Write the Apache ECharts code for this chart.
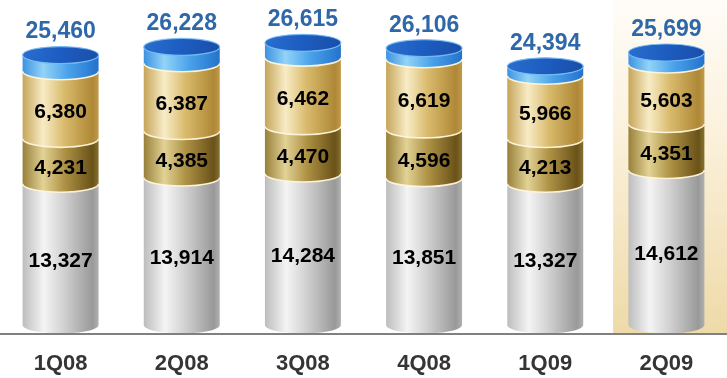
<!DOCTYPE html>
<html>
<head>
<meta charset="utf-8">
<script src="https://cdn.jsdelivr.net/npm/echarts@6/dist/echarts.min.js"></script>
<style>html,body{margin:0;padding:0;background:#fff}#c{width:727px;height:378px}</style>
</head>
<body>
<div id="c"></div>
<script>
const categories = ['1Q08', '2Q08', '3Q08', '4Q08', '1Q09', '2Q09'];
const grayVals = [13327, 13914, 14284, 13851, 13327, 14612];
const darkGoldVals = [4231, 4385, 4470, 4596, 4213, 4351];
const lightGoldVals = [6380, 6387, 6462, 6619, 5966, 5603];
const totals = [25460, 26228, 26615, 26106, 24394, 25699];
const highlighted = ['2Q09'];

const FONT = '"Liberation Sans", Arial, sans-serif';
const G = echarts.graphic;

function hGrad(stops) {
  return new G.LinearGradient(0, 0, 1, 0, stops.map(s => ({ offset: s[0], color: s[1] })));
}

const styles = {
  gray: [[0, '#bdbdbd'], [0.28, '#f4f4f4'], [0.55, '#d0d0d0'], [0.92, '#999999'], [1, '#b0b0b0']],
  dark: [[0, '#98803a'], [0.27, '#e2d295'], [0.55, '#ae9245'], [0.92, '#6a5218'], [1, '#857030']],
  light: [[0, '#c6a55a'], [0.27, '#f8ecc6'], [0.55, '#d9ba6c'], [0.92, '#ae8836'], [1, '#c09a48']],
  blue: [[0, '#3d92e0'], [0.27, '#92d3f8'], [0.6, '#4aa2ea'], [1, '#2472cc']]
};

function fmt(v) { return v.toLocaleString('en-US'); }

function makeRender(kind) {
  return function (params, api) {
    const idx = api.value(0);
    const p0 = api.coord([idx, api.value(1)]);
    const p1 = api.coord([idx, api.value(2)]);
    const bw = api.size([1, 0])[0] * 0.627;
    const rx = bw / 2, ry = 8.5, OFF = 9, k = 0.5523;
    const cx = p0[0], yb = p0[1] - OFF, yt = p1[1] - OFF;
    const d = 'M' + (cx - rx) + ',' + yt + ' L' + (cx - rx) + ',' + yb +
      ' C' + (cx - rx) + ',' + (yb + k * ry) + ' ' + (cx - k * rx) + ',' + (yb + ry) + ' ' + cx + ',' + (yb + ry) +
      ' C' + (cx + k * rx) + ',' + (yb + ry) + ' ' + (cx + rx) + ',' + (yb + k * ry) + ' ' + (cx + rx) + ',' + yb +
      ' L' + (cx + rx) + ',' + yt +
      ' C' + (cx + rx) + ',' + (yt + k * ry) + ' ' + (cx + k * rx) + ',' + (yt + ry) + ' ' + cx + ',' + (yt + ry) +
      ' C' + (cx - k * rx) + ',' + (yt + ry) + ' ' + (cx - rx) + ',' + (yt + k * ry) + ' ' + (cx - rx) + ',' + yt + ' Z';
    const children = [{
      type: 'path', shape: { pathData: d }, style: { fill: hGrad(styles[kind]) }
    }];
    if (kind !== 'blue') {
      const rim = 'M' + (cx - rx) + ',' + yt +
        ' C' + (cx - rx) + ',' + (yt + k * ry) + ' ' + (cx - k * rx) + ',' + (yt + ry) + ' ' + cx + ',' + (yt + ry) +
        ' C' + (cx + k * rx) + ',' + (yt + ry) + ' ' + (cx + rx) + ',' + (yt + k * ry) + ' ' + (cx + rx) + ',' + yt;
      children.push({ type: 'path', z2: 5, shape: { pathData: rim },
        style: { fill: null, stroke: 'rgba(255,246,220,0.95)', lineWidth: 1.6 } });
      children.push({ type: 'text', z2: 10, style: {
        text: fmt(api.value(3)), x: cx, y: (yb + yt) / 2 + 7, align: 'center', verticalAlign: 'middle',
        font: 'bold 21px ' + FONT, fill: '#000' } });
    } else {
      children.push({ type: 'ellipse', z2: 6, shape: { cx: cx, cy: yt, rx: rx, ry: ry },
        style: { fill: new G.LinearGradient(0, 0, 1, 1, [
          { offset: 0, color: '#2a6fd0' }, { offset: 0.5, color: '#1d5cc0' }, { offset: 1, color: '#1a4ea8' }]),
          stroke: 'rgba(120,190,245,0.9)', lineWidth: 1.2 } });
      children.push({ type: 'text', z2: 10, style: {
        text: fmt(api.value(3)), x: cx, y: yt - 23, align: 'center', verticalAlign: 'middle',
        font: 'bold 23px ' + FONT, fill: '#2f68a8' } });
    }
    return { type: 'group', children: children };
  };
}

const segs = { gray: [], dark: [], light: [], blue: [] };
categories.forEach((c, i) => {
  const a = grayVals[i], b = a + darkGoldVals[i], t = b + lightGoldVals[i];
  segs.gray.push([i, 0, a, grayVals[i]]);
  segs.dark.push([i, a, b, darkGoldVals[i]]);
  segs.light.push([i, b, t, lightGoldVals[i]]);
  segs.blue.push([i, t, totals[i], totals[i]]);
});

const hlData = highlighted.map(n => [categories.indexOf(n), 0]);

const chart = echarts.init(document.getElementById('c'));
chart.setOption({
  animation: false,
  grid: { left: 0, right: 0, top: 0, bottom: 44 },
  xAxis: {
    type: 'category', data: categories,
    axisTick: { show: false },
    axisLine: { lineStyle: { color: '#808080', width: 2 } },
    axisLabel: { margin: 19, fontSize: 22, fontWeight: 'bold', fontFamily: FONT, color: '#353535' },
    z: 5
  },
  yAxis: { type: 'value', min: 0, max: 31500, show: false, splitLine: { show: false } },
  series: [
    {
      type: 'custom', z: 0, silent: true, data: hlData, encode: { x: 0, y: 1 },
      renderItem: function (params, api) {
        const p = api.coord([api.value(0), 0]);
        const cs = params.coordSys;
        const x0 = p[0] - api.size([1, 0])[0] * 0.44;
        return { type: 'rect', shape: { x: x0, y: cs.y, width: cs.x + cs.width - x0, height: p[1] - cs.y },
          style: { fill: new G.LinearGradient(0, 0, 0, 1, [
            { offset: 0, color: '#fffdf8' }, { offset: 0.4, color: '#fbf1dc' }, { offset: 1, color: '#eedaa8' }]) } };
      }
    },
    { type: 'custom', z: 2, data: segs.gray, encode: { x: 0, y: [1, 2] }, renderItem: makeRender('gray') },
    { type: 'custom', z: 2, data: segs.dark, encode: { x: 0, y: [1, 2] }, renderItem: makeRender('dark') },
    { type: 'custom', z: 2, data: segs.light, encode: { x: 0, y: [1, 2] }, renderItem: makeRender('light') },
    { type: 'custom', z: 2, data: segs.blue, encode: { x: 0, y: [1, 2] }, renderItem: makeRender('blue') }
  ]
});
</script>
</body>
</html>
